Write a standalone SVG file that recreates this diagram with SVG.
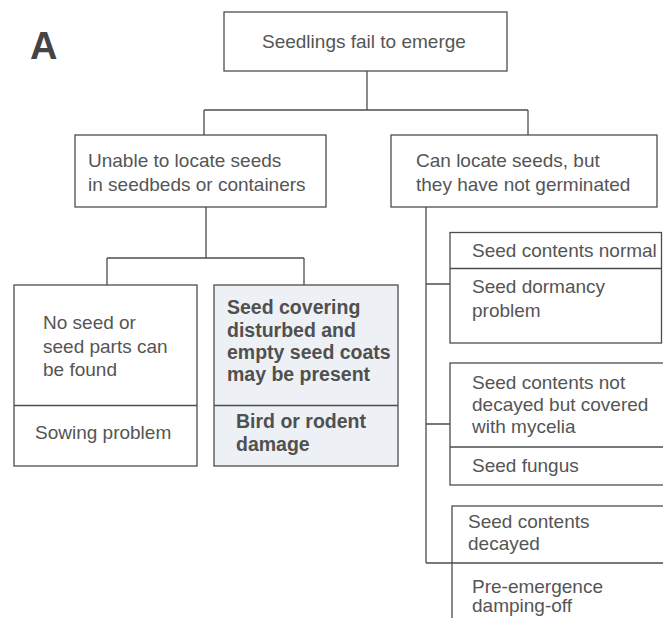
<svg xmlns="http://www.w3.org/2000/svg" width="663" height="618" viewBox="0 0 663 618">
<style>
.box{fill:#fff;stroke:#4d4d4d;stroke-width:1.3}
.shade{fill:#edf0f4;stroke:#4d4d4d;stroke-width:1.3}
.div{stroke:#4d4d4d;stroke-width:1.3;fill:none}
.con{stroke:#4d4d4d;stroke-width:1.3;fill:none}
text{font-family:"Liberation Sans",Arial,sans-serif;font-size:19px;fill:#555}
.b{font-weight:bold;font-size:19.5px;fill:#505050}
.lbl{font-weight:bold;font-size:38px;fill:#444}
</style>
<rect width="663" height="618" fill="#fff"/>
<text class="lbl" x="30" y="59">A</text>
<g id="connectors">
<path class="con" d="M367,71 V110 M204,110 H528 M204,110 V135 M528,110 V135"/>
<path class="con" d="M206,207 V258 M107,258 H304 M107,258 V285 M304,258 V285"/>
<path class="con" d="M426,207 V563 M426,284 H450 M426,424 H450 M426,563 H452"/>
</g>
<g id="root">
<rect class="box" x="224" y="12" width="283" height="59"/>
<text x="262" y="48">Seedlings fail to emerge</text>
</g>
<g id="unable">
<rect class="box" x="75" y="135" width="251" height="72"/>
<text x="88" y="167">Unable to locate seeds</text>
<text x="88" y="191">in seedbeds or containers</text>
</g>
<g id="canlocate">
<rect class="box" x="391" y="135" width="266" height="72"/>
<text x="416" y="167">Can locate seeds, but</text>
<text x="416" y="191">they have not germinated</text>
</g>
<g id="noseed">
<rect class="box" x="14" y="285" width="183" height="181"/>
<line class="div" x1="14" y1="405.5" x2="197" y2="405.5"/>
<text x="43" y="329">No seed or</text>
<text x="43" y="353">seed parts can</text>
<text x="43" y="376">be found</text>
<text x="35" y="439">Sowing problem</text>
</g>
<g id="covering">
<rect class="shade" x="214" y="285" width="184" height="181"/>
<line class="div" x1="214" y1="405.5" x2="398" y2="405.5"/>
<text class="b" x="227" y="314">Seed covering</text>
<text class="b" x="227" y="337">disturbed and</text>
<text class="b" x="227" y="359">empty seed coats</text>
<text class="b" x="227" y="381">may be present</text>
<text class="b" x="236" y="428">Bird or rodent</text>
<text class="b" x="236" y="451">damage</text>
</g>
<g id="normal">
<rect class="box" x="450" y="232.5" width="211.5" height="110.5"/>
<line class="div" x1="450" y1="268.5" x2="661.5" y2="268.5"/>
<text x="472" y="257">Seed contents normal</text>
<text x="472" y="293">Seed dormancy</text>
<text x="472" y="317">problem</text>
</g>
<g id="mycelia">
<rect class="box" x="450" y="363" width="220" height="122"/>
<line class="div" x1="450" y1="447" x2="670" y2="447"/>
<text x="472" y="389">Seed contents not</text>
<text x="472" y="411">decayed but covered</text>
<text x="472" y="433">with mycelia</text>
<text x="472" y="472">Seed fungus</text>
</g>
<g id="decayed">
<rect class="box" x="452" y="506" width="220" height="130"/>
<line class="div" x1="452" y1="563" x2="672" y2="563"/>
<text x="468" y="528">Seed contents</text>
<text x="468" y="550">decayed</text>
<text x="472" y="593">Pre-emergence</text>
<text x="472" y="612">damping-off</text>
</g>
</svg>
